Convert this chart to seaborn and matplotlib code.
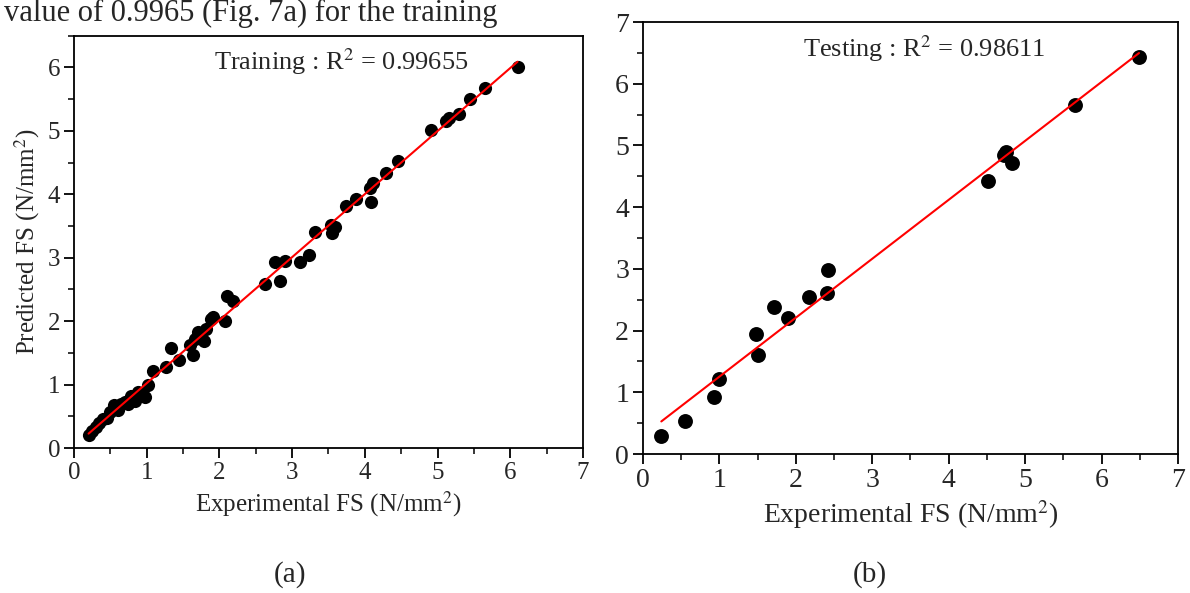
import numpy as np
import pandas as pd
import matplotlib
matplotlib.use("Agg")
import matplotlib.pyplot as plt
from matplotlib.ticker import MultipleLocator
import seaborn as sns

# ------------------------------ dados ------------------------------

treino_exp = [0.20, 0.25, 0.30, 0.34, 0.40, 0.45, 0.49, 0.55, 0.60, 0.65,
              0.70, 0.74, 0.79, 0.84, 0.88, 0.93, 0.97, 1.02, 1.09, 1.26,
              1.34, 1.45, 1.59, 1.63, 1.66, 1.71, 1.79, 1.82, 1.89, 1.91,
              2.07, 2.10, 2.18, 2.63, 2.76, 2.83, 2.90, 3.11, 3.23, 3.32,
              3.53, 3.55, 3.59, 3.74, 3.88, 4.08, 4.07, 4.11, 4.29, 4.46,
              4.91, 5.12, 5.16, 5.30, 5.44, 5.65, 6.10]
treino_pred = [0.21, 0.27, 0.33, 0.40, 0.45, 0.48, 0.56, 0.68, 0.60, 0.70,
               0.72, 0.70, 0.82, 0.74, 0.88, 0.85, 0.81, 1.00, 1.21, 1.28,
               1.57, 1.39, 1.62, 1.47, 1.72, 1.83, 1.68, 1.87, 2.04, 2.07,
               2.01, 2.39, 2.31, 2.59, 2.93, 2.64, 2.95, 2.93, 3.04, 3.41,
               3.52, 3.39, 3.49, 3.81, 3.92, 3.88, 4.10, 4.18, 4.34, 4.52,
               5.01, 5.16, 5.20, 5.26, 5.50, 5.67, 6.01]

teste_exp = [0.24, 0.55, 0.93, 1.00, 1.48, 1.50, 1.71, 1.90, 2.17, 2.42,
             2.41, 4.51, 4.72, 4.75, 4.83, 5.65, 6.49]
teste_pred = [0.29, 0.53, 0.92, 1.21, 1.95, 1.61, 2.38, 2.21, 2.55, 2.98,
              2.61, 4.42, 4.84, 4.90, 4.72, 5.65, 6.44]

r2_treino = "0.99655"
r2_teste = "0.98611"
rotulo_x = "Experimental FS (N/mm$^2$)"
rotulo_y = "Predicted FS (N/mm$^2$)"

# ------------------------------ estilo ------------------------------

sns.set_theme(style="ticks")
plt.rcParams["font.family"] = ["Liberation Serif", "DejaVu Serif"]
plt.rcParams["mathtext.fontset"] = "stix"

df_treino = pd.DataFrame({"exp": treino_exp, "pred": treino_pred})
df_teste = pd.DataFrame({"exp": teste_exp, "pred": teste_pred})

fig = plt.figure(figsize=(11.9, 5.93), dpi=100)
ax1 = fig.add_axes([0.0622, 0.2445, 0.4277, 0.6953])
ax2 = fig.add_axes([0.5403, 0.2344, 0.4496, 0.7285])


def painel(ax, df, ymax, tam_ponto, fs_tick, fs_label, texto, xt, yt, fs_texto):
    sns.regplot(data=df, x="exp", y="pred", ax=ax, ci=None, color="black",
                scatter_kws={"s": tam_ponto, "linewidths": 0, "alpha": 1},
                line_kws={"color": "red", "lw": 1.5, "zorder": 3})
    ax.set_xlim(0, 7)
    ax.set_ylim(0, ymax)
    ax.xaxis.set_major_locator(MultipleLocator(1))
    ax.xaxis.set_minor_locator(MultipleLocator(0.5))
    ax.yaxis.set_major_locator(MultipleLocator(1))
    ax.yaxis.set_minor_locator(MultipleLocator(0.5))
    ax.tick_params(which="major", direction="out", length=7, width=1.3,
                   labelsize=fs_tick, color="black", pad=3)
    ax.tick_params(which="minor", direction="out", length=4, width=1.1, color="black")
    ax.tick_params(top=False, right=False, which="both")
    for s in ax.spines.values():
        s.set_linewidth(1.3)
        s.set_color("black")
    ax.set_xlabel(rotulo_x, fontsize=fs_label, labelpad=4)
    ax.set_ylabel("")
    ax.text(xt, yt, texto, transform=ax.transAxes, ha="center", va="top",
            fontsize=fs_texto)


painel(ax1, df_treino, 6.5, 90, 18, 18, "Training : R$^2$ = " + r2_treino,
       0.525, 0.975, 19)
ax1.set_ylabel(rotulo_y, fontsize=18, labelpad=4)
painel(ax2, df_teste, 7, 115, 20, 20, "Testing : R$^2$ = " + r2_teste,
       0.525, 0.975, 19)

fig.text(290 / 1190, 1 - 575 / 593, "(a)", ha="center", va="center", fontsize=21)
fig.text(870 / 1190, 1 - 575 / 593, "(b)", ha="center", va="center", fontsize=21)
# texto da pagina no topo
fig.text(4 / 1190, 1 - 21 / 593, "value of 0.9965 (Fig. 7a) for the training",
         ha="left", va="baseline", fontsize=22)

fig.savefig("out.png", dpi=100)
